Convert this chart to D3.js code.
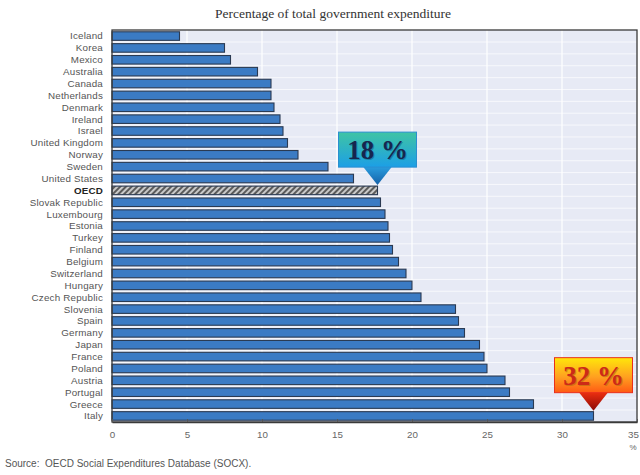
<!DOCTYPE html>
<html>
<head>
<meta charset="utf-8">
<script src="https://cdn.jsdelivr.net/npm/d3@7"></script>
<style>
  body { margin: 0; background: #fff; }
  svg { display: block; }
</style>
</head>
<body>
<div id="chart"></div>
<script>
const width = 640;
const height = 475;

// data
const countries = ["Iceland", "Korea", "Mexico", "Australia", "Canada", "Netherlands", "Denmark",
  "Ireland", "Israel", "United Kingdom", "Norway", "Sweden", "United States", "OECD",
  "Slovak Republic", "Luxembourg", "Estonia", "Turkey", "Finland", "Belgium", "Switzerland",
  "Hungary", "Czech Republic", "Slovenia", "Spain", "Germany", "Japan", "France", "Poland",
  "Austria", "Portugal", "Greece", "Italy"];
const values = [4.5, 7.5, 7.9, 9.7, 10.6, 10.6, 10.8, 11.2, 11.4, 11.7, 12.4, 14.4, 16.1, 17.7,
  17.9, 18.2, 18.4, 18.5, 18.7, 19.1, 19.6, 20.0, 20.6, 22.9, 23.1, 23.5, 24.5, 24.8, 25.0,
  26.2, 26.5, 28.1, 32.1];
const xTicks = [0, 5, 10, 15, 20, 25, 30, 35];
const callouts = [
  { country: "OECD", label: "18 %", kind: "blue" },
  { country: "Italy", label: "32 %", kind: "red" }
];

const data = countries.map((c, i) => ({ name: c, value: values[i] }));

const plot = { left: 112, right: 637, top: 30, bottom: 422 };

const svg = d3.select("#chart")
  .append("svg")
  .attr("width", width)
  .attr("height", height);

const defs = svg.append("defs");

// hatch for OECD
const hatch = defs.append("pattern")
  .attr("id", "hatch")
  .attr("patternUnits", "userSpaceOnUse")
  .attr("width", 4)
  .attr("height", 4)
  .attr("patternTransform", "rotate(45)");
hatch.append("rect").attr("width", 4).attr("height", 4).attr("fill", "#c9c9c9");
hatch.append("rect").attr("width", 2).attr("height", 4).attr("fill", "#5a5a5a");

const gBlue = defs.append("linearGradient").attr("id", "gBlue").attr("x1", 0).attr("y1", 0).attr("x2", 0).attr("y2", 1);
gBlue.append("stop").attr("offset", "0%").attr("stop-color", "#3fc4a4");
gBlue.append("stop").attr("offset", "100%").attr("stop-color", "#1c9fe6");

const gBlueArrow = defs.append("linearGradient").attr("id", "gBlueArrow").attr("x1", 0).attr("y1", 0).attr("x2", 0).attr("y2", 1);
gBlueArrow.append("stop").attr("offset", "0%").attr("stop-color", "#2a9fe0");
gBlueArrow.append("stop").attr("offset", "100%").attr("stop-color", "#1560a8");

const gRed = defs.append("linearGradient").attr("id", "gRed").attr("x1", 0).attr("y1", 0).attr("x2", 0).attr("y2", 1);
gRed.append("stop").attr("offset", "0%").attr("stop-color", "#ffe70a");
gRed.append("stop").attr("offset", "55%").attr("stop-color", "#ffa020");
gRed.append("stop").attr("offset", "100%").attr("stop-color", "#ff5a14");

const gRedArrow = defs.append("linearGradient").attr("id", "gRedArrow").attr("x1", 0).attr("y1", 0).attr("x2", 0).attr("y2", 1);
gRedArrow.append("stop").attr("offset", "0%").attr("stop-color", "#f03010");
gRedArrow.append("stop").attr("offset", "100%").attr("stop-color", "#8a0a08");

// scales
const x = d3.scaleLinear().domain([0, 35]).range([plot.left, plot.right]);
const y = d3.scaleBand().domain(countries).range([plot.top, plot.bottom])
  .paddingInner(0.28).paddingOuter(0.15);

// title
svg.append("text")
  .attr("x", 333)
  .attr("y", 18)
  .attr("text-anchor", "middle")
  .attr("font-family", "'Liberation Serif', serif")
  .attr("font-size", "13.5px")
  .attr("fill", "#333")
  .text("Percentage of total government expenditure");

// background
svg.append("rect")
  .attr("x", plot.left)
  .attr("y", plot.top)
  .attr("width", plot.right - plot.left)
  .attr("height", plot.bottom - plot.top)
  .attr("fill", "#e7eaf5");

// row separators
const step = y.step();
svg.append("g")
  .selectAll("line")
  .data(countries.slice(1))
  .enter()
  .append("line")
  .attr("x1", plot.left)
  .attr("x2", plot.right)
  .attr("y1", d => y(d) - step * y.paddingInner() / 2)
  .attr("y2", d => y(d) - step * y.paddingInner() / 2)
  .attr("stroke", "#f7f8fc")
  .attr("stroke-width", 1);

// vertical grid
svg.append("g")
  .selectAll("line")
  .data(xTicks.slice(1, -1))
  .enter()
  .append("line")
  .attr("x1", d => x(d))
  .attr("x2", d => x(d))
  .attr("y1", plot.top)
  .attr("y2", plot.bottom)
  .attr("stroke", "#ffffff")
  .attr("stroke-width", 1.2);

// bars
svg.append("g")
  .selectAll("rect")
  .data(data)
  .enter()
  .append("rect")
  .attr("x", x(0))
  .attr("y", d => y(d.name))
  .attr("width", d => x(d.value) - x(0))
  .attr("height", y.bandwidth())
  .attr("fill", d => d.name === "OECD" ? "url(#hatch)" : "#3b7bc4")
  .attr("stroke", "#2a3a52")
  .attr("stroke-width", 1.1);

// frame
svg.append("rect")
  .attr("x", plot.left)
  .attr("y", plot.top)
  .attr("width", plot.right - plot.left)
  .attr("height", plot.bottom - plot.top)
  .attr("fill", "none")
  .attr("stroke", "#3a3a3a")
  .attr("stroke-width", 1.3);

// y labels
svg.append("g")
  .selectAll("text")
  .data(countries)
  .enter()
  .append("text")
  .attr("x", 103)
  .attr("y", d => y(d) + y.bandwidth() / 2)
  .attr("dy", "0.35em")
  .attr("text-anchor", "end")
  .attr("font-family", "'Liberation Sans', Arial, sans-serif")
  .attr("font-size", "9.8px")
  .attr("letter-spacing", "0.2px")
  .attr("font-weight", d => d === "OECD" ? "bold" : "normal")
  .attr("fill", d => d === "OECD" ? "#222" : "#555")
  .text(d => d);

// x axis
const xAxis = svg.append("g")
  .attr("transform", `translate(0,${plot.bottom})`)
  .call(d3.axisBottom(x).tickValues(xTicks).tickSizeInner(-3).tickSizeOuter(0).tickPadding(9));
xAxis.select(".domain").attr("stroke", "#3a3a3a").attr("stroke-width", 1.3);
xAxis.selectAll(".tick line").attr("stroke", "#555");
xAxis.selectAll(".tick text")
  .attr("font-family", "'Liberation Sans', Arial, sans-serif")
  .attr("font-size", "9.8px")
  .attr("fill", "#666")
  .attr("dx", d => d === 35 ? -4 : 0);

svg.append("text")
  .attr("x", x(35) - 4)
  .attr("y", 450)
  .attr("text-anchor", "middle")
  .attr("font-family", "'Liberation Sans', Arial, sans-serif")
  .attr("font-size", "8px")
  .attr("fill", "#666")
  .text("%");

// source
svg.append("text")
  .attr("x", 5)
  .attr("y", 467)
  .attr("font-family", "'Liberation Sans', Arial, sans-serif")
  .attr("font-size", "10px")
  .attr("fill", "#555")
  .attr("xml:space", "preserve")
  .text("Source:  OECD Social Expenditures Database (SOCX).");

// callouts
callouts.forEach(c => {
  const v = values[countries.indexOf(c.country)];
  const tipX = x(v);
  const tipY = y(c.country) - 1;
  const boxW = 78, boxH = 35, arrowH = 18, arrowHalf = 15;
  const bx = tipX - boxW / 2;
  const by = tipY - arrowH - boxH;
  const g = svg.append("g");
  const blue = c.kind === "blue";

  g.append("path")
    .attr("d", `M${tipX - arrowHalf},${by + boxH - 1} L${tipX + arrowHalf},${by + boxH - 1} L${tipX},${tipY} Z`)
    .attr("fill", blue ? "url(#gBlueArrow)" : "url(#gRedArrow)");

  g.append("rect")
    .attr("x", bx)
    .attr("y", by)
    .attr("width", boxW)
    .attr("height", boxH)
    .attr("fill", blue ? "url(#gBlue)" : "url(#gRed)")
    .attr("stroke", blue ? "#2a8fd0" : "#e8301c")
    .attr("stroke-width", 1);

  // shadow
  g.append("text")
    .attr("x", tipX + 1.2)
    .attr("y", by + 28.2)
    .attr("text-anchor", "middle")
    .attr("font-family", "'Liberation Serif', serif")
    .attr("font-weight", "bold")
    .attr("font-size", "27px")
    .attr("fill", blue ? "#0d6a8a" : "#b36a10")
    .attr("opacity", 0.6)
    .text(c.label);

  g.append("text")
    .attr("x", tipX)
    .attr("y", by + 27)
    .attr("text-anchor", "middle")
    .attr("font-family", "'Liberation Serif', serif")
    .attr("font-weight", "bold")
    .attr("font-size", "27px")
    .attr("fill", blue ? "#16264f" : "#cc2a18")
    .text(c.label);
});
</script>
</body>
</html>
